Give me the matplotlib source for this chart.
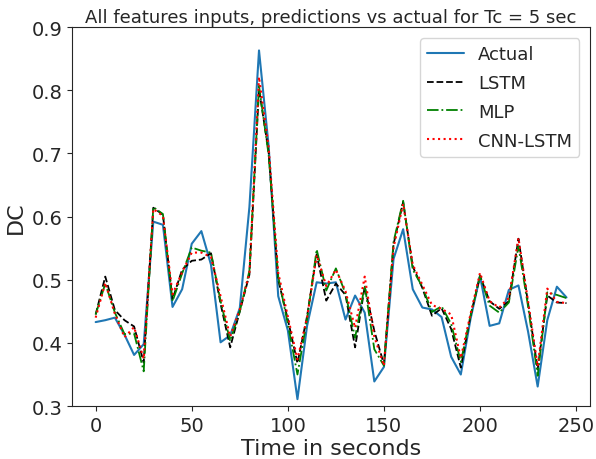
import numpy as np
import matplotlib
matplotlib.use("Agg")
import matplotlib.pyplot as plt
import seaborn as sns

# datos -------------------------------------------------------------------
t = np.arange(0, 250, 5)

actual = [0.433, 0.436, 0.440, 0.413, 0.381, 0.398, 0.592, 0.587, 0.457, 0.485,
          0.557, 0.577, 0.524, 0.401, 0.412, 0.455, 0.615, 0.863, 0.712, 0.474,
          0.420, 0.311, 0.427, 0.496, 0.494, 0.496, 0.437, 0.475, 0.448, 0.339,
          0.362, 0.533, 0.580, 0.485, 0.456, 0.453, 0.441, 0.378, 0.350, 0.437,
          0.506, 0.427, 0.431, 0.484, 0.491, 0.418, 0.331, 0.436, 0.489, 0.472]

lstm = [0.445, 0.505, 0.452, 0.436, 0.426, 0.369, 0.614, 0.603, 0.469, 0.516,
        0.530, 0.532, 0.542, 0.462, 0.393, 0.450, 0.508, 0.802, 0.702, 0.500,
        0.437, 0.368, 0.442, 0.540, 0.467, 0.494, 0.476, 0.393, 0.489, 0.419,
        0.366, 0.556, 0.623, 0.521, 0.487, 0.443, 0.455, 0.422, 0.361, 0.442,
        0.506, 0.466, 0.454, 0.466, 0.565, 0.463, 0.358, 0.475, 0.464, 0.463]

mlp = [0.445, 0.494, 0.448, 0.414, 0.415, 0.355, 0.615, 0.604, 0.466, 0.510,
       0.551, 0.546, 0.543, 0.466, 0.403, 0.450, 0.514, 0.807, 0.698, 0.505,
       0.430, 0.350, 0.437, 0.548, 0.483, 0.518, 0.478, 0.408, 0.491, 0.390,
       0.364, 0.560, 0.625, 0.516, 0.489, 0.449, 0.458, 0.430, 0.370, 0.442,
       0.506, 0.459, 0.448, 0.464, 0.553, 0.458, 0.348, 0.480, 0.476, 0.471]

cnn_lstm = [0.440, 0.495, 0.446, 0.409, 0.425, 0.375, 0.612, 0.601, 0.477, 0.512,
            0.543, 0.543, 0.536, 0.474, 0.410, 0.453, 0.510, 0.821, 0.710, 0.511,
            0.442, 0.374, 0.440, 0.539, 0.490, 0.516, 0.482, 0.424, 0.505, 0.410,
            0.364, 0.551, 0.620, 0.524, 0.492, 0.460, 0.454, 0.445, 0.376, 0.445,
            0.511, 0.466, 0.456, 0.471, 0.566, 0.466, 0.363, 0.486, 0.465, 0.463]

# grafico -----------------------------------------------------------------
sns.set_style("ticks")
plt.rcParams['font.family'] = ['DejaVu Sans']

fig = plt.figure(figsize=(5.96, 4.60), dpi=100)
ax = fig.add_axes([0.121, 0.115, 0.869, 0.824])

ax.plot(t, actual, "-", color="#1f77b4", lw=1.5, label="Actual")
ax.plot(t, lstm, "--", color="k", lw=1.3, label="LSTM")
ax.plot(t, mlp, "-.", color="green", lw=1.3, label="MLP")
ax.plot(t, cnn_lstm, ":", color="red", lw=1.5, label="CNN-LSTM")

ax.set_ylim(0.3, 0.9)
ax.set_xticks([0, 50, 100, 150, 200, 250])
ax.tick_params(labelsize=14)
ax.set_xlabel("Time in seconds", fontsize=16, labelpad=2)
ax.set_ylabel("DC", fontsize=16)
ax.set_title("All features inputs, predictions vs actual for Tc = 5 sec", fontsize=13, pad=4)
ax.legend(loc="upper right", fontsize=13, labelspacing=0.6, borderaxespad=0.6)

fig.savefig("out.png", dpi=100)
